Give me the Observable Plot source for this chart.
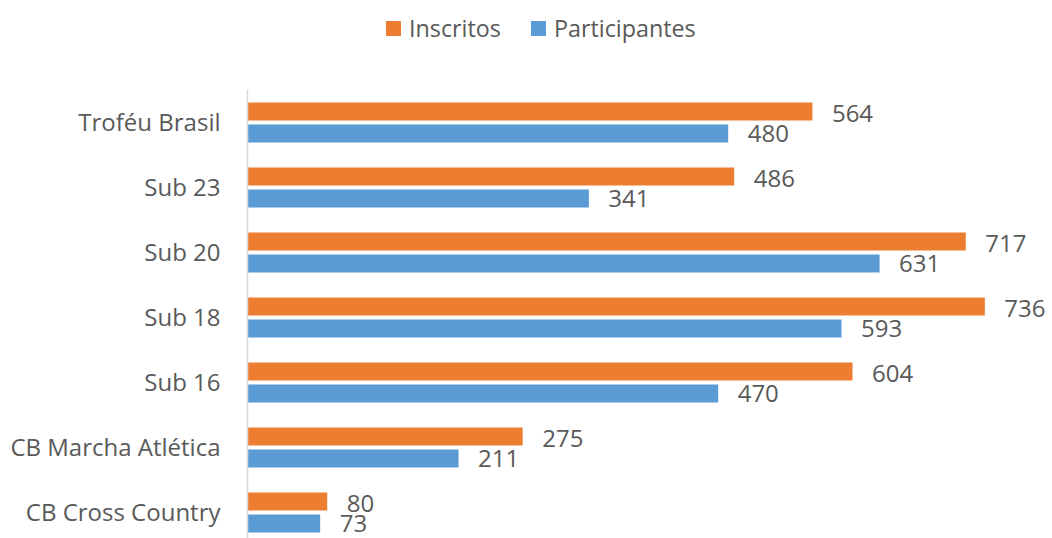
<!DOCTYPE html>
<html>
<head>
<meta charset="utf-8">
<script src="https://cdn.jsdelivr.net/npm/d3@7"></script>
<script src="https://cdn.jsdelivr.net/npm/@observablehq/plot@0.6"></script>
<style>
  html, body { margin: 0; padding: 0; background: #fff; overflow: hidden; }
  #legend { height: 56px; position: relative; font-family: "Open Sans", sans-serif; font-size: 23.3px; color: #595959; }
  .item { position: absolute; top: 12px; display: flex; align-items: center; }
  .sw { width: 15px; height: 15px; margin-right: 8px; }
</style>
</head>
<body>
<div id="legend"></div>
<div id="chart"></div>
<script>
const categories = ["Troféu Brasil", "Sub 23", "Sub 20", "Sub 18", "Sub 16", "CB Marcha Atlética", "CB Cross Country"];
const inscritos = [564, 486, 717, 736, 604, 275, 80];
const participantes = [480, 341, 631, 593, 470, 211, 73];
const seriesNames = ["Inscritos", "Participantes"];
const seriesColors = ["#ED7D31", "#5B9BD5"];

const dataI = categories.map((c, i) => ({category: c, value: inscritos[i]}));
const dataP = categories.map((c, i) => ({category: c, value: participantes[i]}));

// legend
const legend = document.getElementById("legend");
const lefts = [386, 531];
seriesNames.forEach((name, i) => {
  const it = document.createElement("div");
  it.className = "item";
  it.style.left = lefts[i] + "px";
  const sw = document.createElement("div");
  sw.className = "sw";
  sw.style.background = seriesColors[i];
  const tx = document.createElement("span");
  tx.textContent = name;
  it.appendChild(sw); it.appendChild(tx);
  legend.appendChild(it);
});

const bandH = 65, barH = 18, outer = 12.5;
const chart = Plot.plot({
  width: 1052,
  height: 489,
  marginTop: 33.5,
  marginBottom: 0,
  marginLeft: 247,
  marginRight: 3,
  style: {fontFamily: "Open Sans, sans-serif", fontSize: "24px", color: "#595959", background: "#fff"},
  x: {domain: [0, 800], axis: null},
  y: {domain: categories, padding: 0, label: null, tickSize: 0, tickPadding: 27},
  marks: [
    Plot.barX(dataI, {x: "value", y: "category", fill: seriesColors[0], insetTop: outer, insetBottom: bandH - outer - barH}),
    Plot.barX(dataP, {x: "value", y: "category", fill: seriesColors[1], insetTop: bandH - outer - barH, insetBottom: outer}),
    Plot.text(dataI, {x: "value", y: "category", text: d => String(d.value), textAnchor: "start", dx: 19, dy: -9, fill: "#595959", fontSize: 24}),
    Plot.text(dataP, {x: "value", y: "category", text: d => String(d.value), textAnchor: "start", dx: 19, dy: 11.5, fill: "#595959", fontSize: 24}),
    Plot.ruleX([0], {stroke: "#D9D9D9", strokeWidth: 1.5})
  ]
});
document.getElementById("chart").appendChild(chart);
</script>
</body>
</html>
